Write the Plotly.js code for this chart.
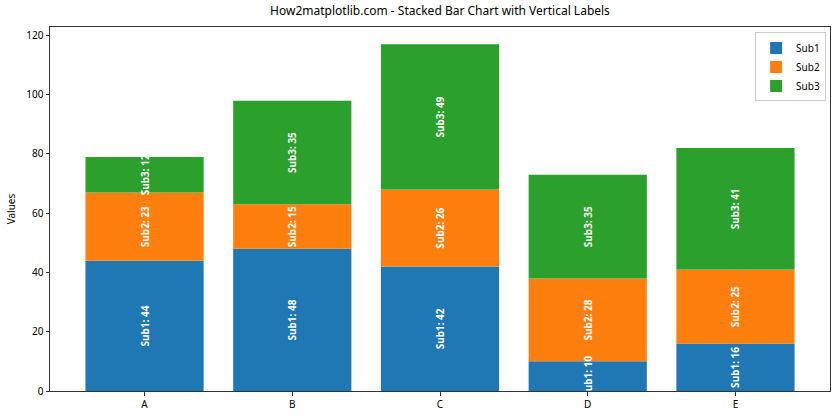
<!DOCTYPE html>
<html><head><meta charset="utf-8">
<script src="https://cdn.plot.ly/plotly-3.0.1.min.js"></script>
<style>body{margin:0;padding:0;}#chart{width:840px;height:420px;}</style>
</head><body><div id="chart"></div>
<script>
const categories = ['A','B','C','D','E'];
const sub1 = [44, 48, 42, 10, 16];
const sub2 = [23, 15, 26, 28, 25];
const sub3 = [12, 35, 49, 35, 41];
const seriesNames = ['Sub1','Sub2','Sub3'];
const colors = ['#1f77b4','#ff7f0e','#2ca02c'];
const series = [sub1, sub2, sub3];
const fontFam = '"Noto Sans", "DejaVu Sans", sans-serif';

// cumulative bases for stacking
const bases = series.map((vals, i) => vals.map((_, j) => {
  let s = 0; for (let k = 0; k < i; k++) s += series[k][j]; return s;
}));

const barTraces = series.map((vals, i) => ({
  type: 'bar',
  name: seriesNames[i],
  x: categories,
  y: vals,
  base: bases[i],
  width: 0.8,
  marker: {color: colors[i], line: {width: 0}},
  hoverinfo: 'skip'
}));

const textTraces = series.map((vals, i) => ({
  type: 'bar',
  name: seriesNames[i] + ' labels',
  showlegend: false,
  x: categories,
  y: vals,
  base: bases[i],
  width: 0.8,
  marker: {color: 'rgba(0,0,0,0)', line: {width: 0}},
  text: vals.map(v => seriesNames[i] + ': ' + v),
  textposition: 'inside',
  insidetextanchor: 'middle',
  textangle: -90,
  textfont: {color: 'white', size: 10, family: fontFam, weight: 'bold'},
  constraintext: 'none',
  cliponaxis: true,
  hoverinfo: 'skip'
}));

const layout = {
  width: 840, height: 420,
  margin: {l: 50, r: 10, t: 27, b: 29},
  barmode: 'overlay',
  paper_bgcolor: 'white', plot_bgcolor: 'white',
  font: {family: fontFam, size: 10, color: '#000'},
  uniformtext: {mode: 'show', minsize: 10},
  title: {text: 'How2matplotlib.com - Stacked Bar Chart with Vertical Labels', font: {size: 12}, xref: 'paper', x: 0.5, xanchor: 'center', y: 0.975, yanchor: 'middle'},
  xaxis: {range: [-0.64, 4.64], showgrid: false, zeroline: false, showline: true, linecolor: '#333', linewidth: 1, mirror: true,
          ticks: 'outside', ticklen: 3.5, tickcolor: '#333', tickfont: {size: 10}},
  yaxis: {range: [0, 122.85], showgrid: false, zeroline: false, showline: true, linecolor: '#333', linewidth: 1, mirror: true,
          ticks: 'outside', ticklen: 3.5, tickcolor: '#333', tickvals: [0,20,40,60,80,100,120], tickfont: {size: 10},
          title: {text: 'Values', font: {size: 10}, standoff: 8}},
  legend: {x: 0.995, y: 0.985, xanchor: 'right', yanchor: 'top', bgcolor: 'rgba(255,255,255,0.8)', bordercolor: '#ccc', borderwidth: 1,
           font: {size: 10}, traceorder: 'normal', itemwidth: 30, tracegroupgap: 0}
};
Plotly.newPlot('chart', barTraces.concat(textTraces), layout, {displayModeBar: false, staticPlot: true});
</script></body></html>
